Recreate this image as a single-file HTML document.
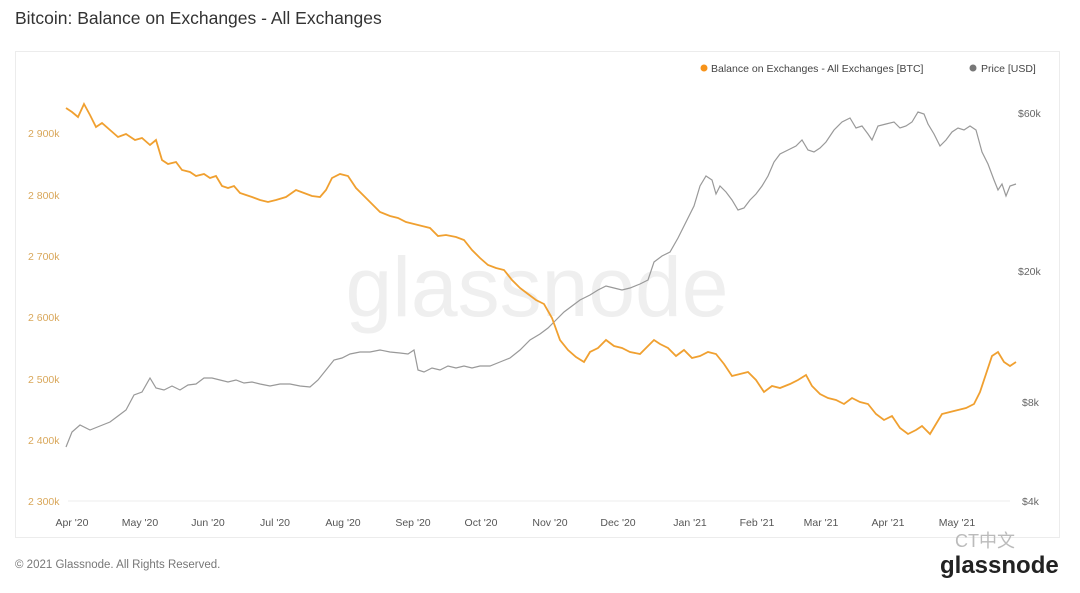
<!DOCTYPE html>
<html><head><meta charset="utf-8"><style>
body{margin:0;background:#fff;width:1080px;height:588px;overflow:hidden;font-family:"Liberation Sans",sans-serif}
</style></head><body>
<svg width="1080" height="588" xmlns="http://www.w3.org/2000/svg" font-family="Liberation Sans, sans-serif">
<text x="15" y="24" font-size="17.5" fill="#333">Bitcoin: Balance on Exchanges - All Exchanges</text>
<rect x="15.5" y="51.5" width="1044" height="486" fill="#fff" stroke="#ececec"/>
<text x="537" y="316" font-size="84" fill="#efefef" text-anchor="middle">glassnode</text>
<circle cx="704" cy="68" r="3.5" fill="#f7931a"/>
<text x="711" y="72" font-size="10.5" fill="#444">Balance on Exchanges - All Exchanges [BTC]</text>
<circle cx="973" cy="68" r="3.5" fill="#777"/>
<text x="981" y="72" font-size="10.5" fill="#444">Price [USD]</text>
<line x1="68" y1="501" x2="1010" y2="501" stroke="#eee"/>
<g font-size="10.5" fill="#d9a75a">
<text x="28" y="137">2 900k</text><text x="28" y="199">2 800k</text><text x="28" y="260">2 700k</text><text x="28" y="321">2 600k</text><text x="28" y="383">2 500k</text><text x="28" y="444">2 400k</text><text x="28" y="505">2 300k</text></g>
<g font-size="10.5" fill="#666">
<text x="1018" y="117">$60k</text><text x="1018" y="275">$20k</text><text x="1022" y="406">$8k</text><text x="1022" y="505">$4k</text></g>
<g font-size="10.5" fill="#555" text-anchor="middle">
<text x="72" y="526">Apr '20</text><text x="140" y="526">May '20</text><text x="208" y="526">Jun '20</text><text x="275" y="526">Jul '20</text><text x="343" y="526">Aug '20</text><text x="413" y="526">Sep '20</text><text x="481" y="526">Oct '20</text><text x="550" y="526">Nov '20</text><text x="618" y="526">Dec '20</text><text x="690" y="526">Jan '21</text><text x="757" y="526">Feb '21</text><text x="821" y="526">Mar '21</text><text x="888" y="526">Apr '21</text><text x="957" y="526">May '21</text></g>
<polyline fill="none" stroke="#999" stroke-width="1.2" points="66,447 72,432 80,425 90,430 100,426 110,422 118,416 126,410 134,395 142,392 150,378 156,388 164,390 172,386 180,390 188,385 196,384 204,378 212,378 220,380 228,382 236,380 244,383 252,382 260,384 270,386 280,384 290,384 300,386 310,387 318,380 326,370 334,360 342,358 350,354 360,352 370,352 380,350 390,352 400,353 408,354 414,350 418,370 424,372 432,368 440,370 448,366 456,368 464,366 472,368 480,366 490,366 500,362 510,358 520,350 530,340 540,334 548,328 556,320 564,312 572,306 580,300 590,295 598,290 606,286 614,288 622,290 630,288 640,284 648,280 654,262 662,256 670,252 678,238 686,222 694,206 700,186 706,176 712,180 716,194 720,186 726,192 732,200 738,210 744,208 750,200 756,194 762,186 768,176 774,162 780,154 788,150 796,146 802,140 808,150 814,152 820,148 826,142 834,130 842,122 850,118 856,128 862,126 868,134 872,140 878,126 886,124 894,122 900,128 906,126 912,122 918,112 924,114 928,124 934,134 940,146 946,140 952,132 958,128 964,130 970,126 976,130 982,152 988,164 994,180 998,190 1002,184 1006,196 1010,186 1016,184"/>
<polyline fill="none" stroke="#f0a030" stroke-width="1.8" points="66,108 72,112 78,117 84,104 90,115 96,127 102,123 110,130 118,137 126,134 135,140 142,138 150,145 156,140 162,160 168,164 176,162 182,170 190,172 196,176 204,174 210,178 216,176 222,186 228,188 234,186 240,193 246,195 252,197 260,200 268,202 276,200 286,197 296,190 304,193 312,196 320,197 326,190 332,178 340,174 348,176 356,188 364,196 372,204 380,212 390,216 398,218 406,222 414,224 422,226 430,228 438,236 446,235 456,237 464,240 472,250 480,258 488,265 496,268 504,270 512,280 520,288 528,294 536,300 544,304 552,318 560,340 568,350 576,357 584,362 590,352 598,348 606,340 614,346 622,348 630,352 640,354 648,346 654,340 660,344 668,348 676,356 684,350 692,358 700,356 708,352 716,354 724,364 732,376 740,374 748,372 756,380 764,392 772,386 780,388 790,384 798,380 806,375 812,386 820,394 828,398 836,400 844,404 852,398 860,402 868,404 876,414 884,420 892,416 900,428 908,434 916,430 922,426 930,434 936,424 942,414 950,412 958,410 966,408 974,404 980,392 986,374 992,356 998,352 1004,362 1010,366 1016,362"/>
<text x="15" y="568" font-size="11.5" fill="#777">© 2021 Glassnode. All Rights Reserved.</text>
<text x="955" y="547" font-size="18" fill="#bbb">CT中文</text>
<text x="940" y="573" font-size="24" fill="#222" font-weight="bold">glassnode</text>
</svg>
</body></html>
